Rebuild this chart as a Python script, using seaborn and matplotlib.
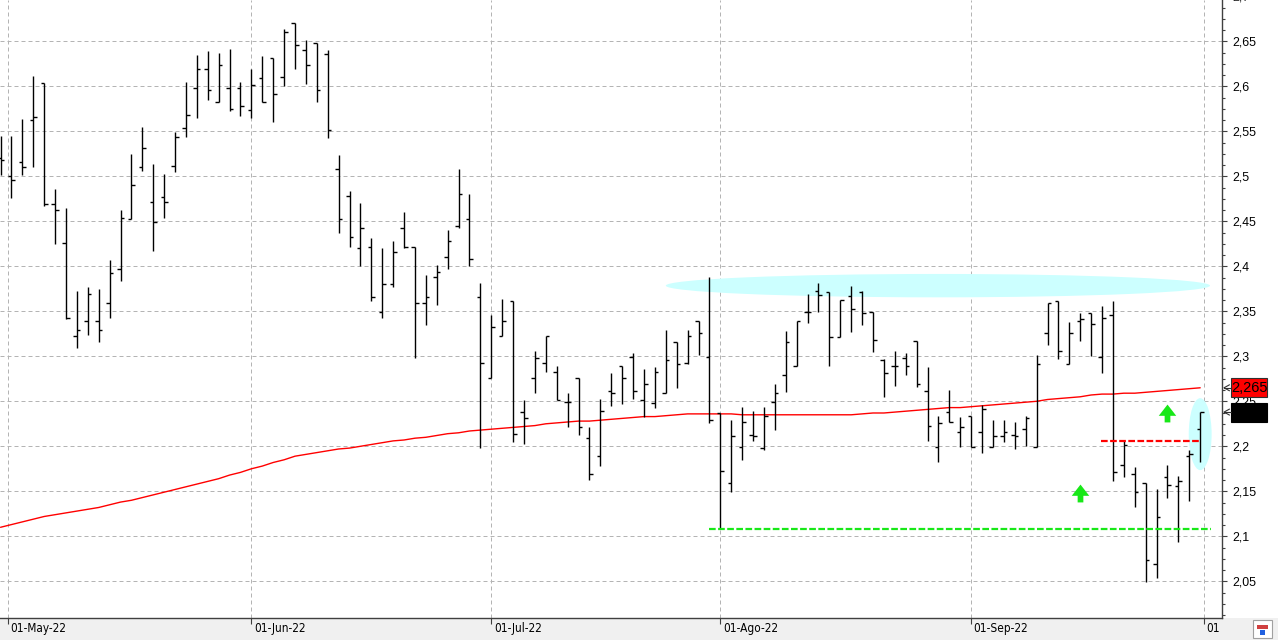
import numpy as np
import pandas as pd
import matplotlib
matplotlib.use("Agg")
import matplotlib.pyplot as plt
import matplotlib.transforms as mtransforms
from matplotlib.patches import Ellipse, Rectangle
from matplotlib.path import Path
from matplotlib.lines import Line2D
from matplotlib.ticker import MultipleLocator, FuncFormatter
from matplotlib.font_manager import FontProperties
from matplotlib import font_manager
import seaborn as sns

# ---------------- data ----------------
dates = pd.bdate_range("2022-04-29", "2022-09-30")

opens = [2.520, 2.500, 2.516, 2.563, 2.604, 2.469, 2.426, 2.322, 2.339, 2.339,
         2.359, 2.397, 2.452, 2.510, 2.472, 2.477, 2.512, 2.554, 2.598, 2.619,
         2.583, 2.598, 2.598, 2.574, 2.609, 2.631, 2.610, 2.670, 2.640, 2.648,
         2.636, 2.508, 2.478, 2.420, 2.421, 2.349, 2.380, 2.443, 2.421, 2.359,
         2.388, 2.410, 2.445, 2.453, 2.366, 2.276, 2.323, 2.361, 2.238, 2.276,
         2.293, 2.283, 2.249, 2.276, 2.209, 2.189, 2.261, 2.289, 2.299, 2.251,
         2.248, 2.259, 2.316, 2.293, 2.339, 2.299, 2.237, 2.159, 2.199, 2.213,
         2.198, 2.249, 2.279, 2.289, 2.349, 2.372, 2.371, 2.321, 2.367, 2.371,
         2.349, 2.296, 2.289, 2.298, 2.317, 2.261, 2.199, 2.238, 2.216, 2.234,
         2.216, 2.199, 2.211, 2.213, 2.219, 2.199, 2.326, 2.361, 2.291, 2.339,
         2.348, 2.299, 2.346, 2.179, 2.169, 2.159, 2.069, 2.166, 2.156, 2.189,
         2.219]
highs = [2.545, 2.545, 2.564, 2.612, 2.604, 2.486, 2.465, 2.373, 2.377, 2.375,
         2.407, 2.463, 2.525, 2.555, 2.514, 2.503, 2.549, 2.605, 2.635, 2.639,
         2.637, 2.641, 2.605, 2.619, 2.634, 2.632, 2.664, 2.670, 2.652, 2.648,
         2.640, 2.524, 2.484, 2.470, 2.431, 2.420, 2.428, 2.460, 2.421, 2.390,
         2.401, 2.440, 2.508, 2.480, 2.381, 2.346, 2.364, 2.361, 2.251, 2.306,
         2.323, 2.289, 2.259, 2.276, 2.221, 2.253, 2.281, 2.289, 2.304, 2.286,
         2.288, 2.329, 2.316, 2.329, 2.339, 2.388, 2.237, 2.229, 2.244, 2.239,
         2.244, 2.269, 2.328, 2.339, 2.369, 2.381, 2.371, 2.363, 2.378, 2.373,
         2.349, 2.297, 2.306, 2.304, 2.317, 2.288, 2.234, 2.262, 2.232, 2.234,
         2.246, 2.229, 2.229, 2.227, 2.234, 2.301, 2.359, 2.361, 2.338, 2.348,
         2.348, 2.356, 2.361, 2.206, 2.177, 2.159, 2.153, 2.179, 2.167, 2.196,
         2.238]
lows = [2.501, 2.476, 2.502, 2.510, 2.467, 2.425, 2.341, 2.309, 2.324, 2.316,
        2.343, 2.384, 2.452, 2.506, 2.417, 2.454, 2.505, 2.544, 2.565, 2.585,
        2.583, 2.573, 2.567, 2.565, 2.583, 2.560, 2.600, 2.619, 2.603, 2.583,
        2.543, 2.437, 2.421, 2.400, 2.361, 2.343, 2.377, 2.420, 2.298, 2.335,
        2.357, 2.397, 2.443, 2.400, 2.198, 2.276, 2.323, 2.205, 2.203, 2.259,
        2.283, 2.251, 2.221, 2.213, 2.163, 2.178, 2.245, 2.247, 2.253, 2.233,
        2.243, 2.259, 2.265, 2.291, 2.301, 2.226, 2.108, 2.149, 2.185, 2.206,
        2.196, 2.218, 2.260, 2.289, 2.337, 2.349, 2.289, 2.321, 2.327, 2.335,
        2.305, 2.255, 2.267, 2.279, 2.266, 2.206, 2.183, 2.227, 2.199, 2.199,
        2.193, 2.199, 2.205, 2.197, 2.200, 2.199, 2.313, 2.297, 2.291, 2.317,
        2.300, 2.281, 2.161, 2.166, 2.133, 2.049, 2.054, 2.143, 2.094, 2.139,
        2.183]
closes = [2.518, 2.496, 2.510, 2.566, 2.469, 2.462, 2.343, 2.329, 2.369, 2.329,
          2.392, 2.454, 2.490, 2.531, 2.449, 2.472, 2.544, 2.568, 2.619, 2.596,
          2.624, 2.575, 2.578, 2.602, 2.583, 2.592, 2.660, 2.646, 2.624, 2.596,
          2.552, 2.453, 2.433, 2.443, 2.366, 2.380, 2.416, 2.421, 2.359, 2.366,
          2.394, 2.428, 2.480, 2.408, 2.293, 2.333, 2.339, 2.214, 2.231, 2.298,
          2.323, 2.251, 2.249, 2.221, 2.169, 2.239, 2.259, 2.276, 2.261, 2.269,
          2.283, 2.296, 2.291, 2.323, 2.326, 2.229, 2.173, 2.211, 2.227, 2.211,
          2.234, 2.259, 2.316, 2.339, 2.349, 2.368, 2.321, 2.363, 2.353, 2.348,
          2.318, 2.281, 2.289, 2.289, 2.269, 2.223, 2.226, 2.227, 2.221, 2.199,
          2.241, 2.211, 2.216, 2.211, 2.231, 2.291, 2.359, 2.306, 2.326, 2.341,
          2.336, 2.343, 2.171, 2.201, 2.149, 2.074, 2.121, 2.157, 2.161, 2.191,
          2.238]
ma_values = [2.110, 2.113, 2.116, 2.119, 2.122, 2.124, 2.126, 2.128, 2.130, 2.132,
             2.135, 2.138, 2.140, 2.143, 2.146, 2.149, 2.152, 2.155, 2.158, 2.161,
             2.164, 2.168, 2.171, 2.175, 2.178, 2.182, 2.185, 2.189, 2.191, 2.193,
             2.195, 2.197, 2.198, 2.200, 2.202, 2.204, 2.206, 2.207, 2.209, 2.210,
             2.212, 2.214, 2.215, 2.217, 2.218, 2.219, 2.220, 2.221, 2.222, 2.223,
             2.225, 2.226, 2.227, 2.228, 2.228, 2.229, 2.230, 2.231, 2.232, 2.233,
             2.233, 2.234, 2.235, 2.236, 2.236, 2.236, 2.236, 2.236, 2.235, 2.235,
             2.235, 2.235, 2.235, 2.235, 2.235, 2.235, 2.235, 2.235, 2.235, 2.236,
             2.237, 2.237, 2.238, 2.239, 2.240, 2.241, 2.242, 2.243, 2.243, 2.244,
             2.245, 2.246, 2.247, 2.248, 2.249, 2.250, 2.252, 2.253, 2.254, 2.255,
             2.257, 2.258, 2.258, 2.259, 2.259, 2.260, 2.261, 2.262, 2.263, 2.264,
             2.265]

month_starts = ["2022-05-01", "2022-06-01", "2022-07-01", "2022-08-01", "2022-09-01", "2022-10-01"]
month_labels = ["01-May-22", "01-Jun-22", "01-Jul-22", "01-Ago-22", "01-Sep-22", "01"]
next_session = "2022-10-03"

# annotations (levels in price units, spans in bar units)
support_level = 2.108
support_span = (65.0, 111.0)
breakdown_level = 2.206
breakdown_span = (100.9, 110.0)
resistance_level = 2.3785
resistance_span = (61.0, 110.9)
resistance_thickness = 0.026
signal_bars = [99, 107]
signal_levels = [2.148, 2.237]
focus_bar = 110
focus_level = 2.2135
focus_thickness = 0.08
focus_width = 2.1

# ---------------- style ----------------
sns.set_theme(style="white")
plt.rcParams["font.family"] = ["Liberation Sans", "DejaVu Sans"]

names = {f.name for f in font_manager.fontManager.ttflist}
if "Liberation Sans Narrow" in names:
    xfp = FontProperties(family="Liberation Sans Narrow", size=9.5)
elif any(f.name == "DejaVu Sans" and "ondensed" in f.fname for f in font_manager.fontManager.ttflist):
    xfp = FontProperties(family="DejaVu Sans", stretch="condensed", size=8.5)
else:
    xfp = FontProperties(family="Liberation Sans", size=8.3)

W, H = 1278, 640
fig = plt.figure(figsize=(W / 100, H / 100), dpi=100, facecolor="white")
fig.add_artist(Rectangle((0, 0), 1, 22 / H, transform=fig.transFigure,
                         facecolor="#f0f0f0", edgecolor="none", zorder=-5))
ax = fig.add_axes([0, 22 / H, 1222 / W, 618 / H])
ax.set_facecolor("white")

n = len(dates)
idx = np.arange(n)
ax.set_xlim(-0.05, 112.0)
ax.set_ylim(2.0092, 2.6959)

# highlight zones
ax.add_patch(Ellipse(((resistance_span[0] + resistance_span[1]) / 2, resistance_level),
                     resistance_span[1] - resistance_span[0], resistance_thickness,
                     facecolor="#ccffff", edgecolor="none", zorder=1))
ax.add_patch(Ellipse((focus_bar, focus_level), focus_width, focus_thickness,
                     facecolor="#ccffff", edgecolor="none", zorder=1))

# moving average
sns.lineplot(x=idx, y=ma_values, ax=ax, color="#ff0000", linewidth=1.0, zorder=2)

# OHLC bars
lw_bar = 1.0
ax.vlines(idx, lows, highs, colors="black", linewidth=lw_bar, zorder=3)
ax.hlines(opens, idx - 0.33, idx, colors="black", linewidth=lw_bar, zorder=3)
ax.hlines(closes, idx, idx + 0.33, colors="black", linewidth=lw_bar, zorder=3)

# dashed levels
ax.plot(support_span, [support_level] * 2, color="#18e818", linewidth=1.6,
        dashes=(3, 1.1), zorder=4)
ax.plot(breakdown_span, [breakdown_level] * 2, color="#ff0000", linewidth=1.6,
        dashes=(3, 1.1), zorder=4)

# green up arrows
arrow = Path([(0, 0.5), (0.49, -0.13), (0.16, -0.13), (0.16, -0.5), (-0.16, -0.5),
              (-0.16, -0.13), (-0.49, -0.13), (0, 0.5)],
             [Path.MOVETO] + [Path.LINETO] * 6 + [Path.CLOSEPOLY])
ax.scatter(signal_bars, signal_levels, marker=arrow, s=165, color="#18e818",
           linewidths=0, zorder=5)

# grid
ax.set_axisbelow(True)
ax.grid(True, which="major", color="#b4b4b4", linestyle=(0, (4, 3)), linewidth=0.72)

# y axis on right
ax.yaxis.tick_right()
ax.yaxis.set_major_locator(MultipleLocator(0.05))
ax.yaxis.set_minor_locator(MultipleLocator(0.0125))
ax.yaxis.set_major_formatter(FuncFormatter(
    lambda v, p: f"{v:.2f}".rstrip("0").rstrip(".").replace(".", ",")))
ax.tick_params(axis="y", which="major", direction="out", length=3.6, width=0.8,
               color="#404040", pad=3.6, labelsize=8.9, labelcolor="black",
               right=True, left=False)
ax.tick_params(axis="y", which="minor", direction="out", length=2.2, width=0.8,
               color="#404040", right=True, left=False)
ax.annotate("2,7", xy=(1, 2.7), xycoords=("axes fraction", "data"),
            xytext=(7.2, 0), textcoords="offset points", va="center_baseline",
            ha="left", fontsize=8.9, annotation_clip=False)

# x axis month ticks
ext = dates.append(pd.DatetimeIndex([next_session]))
tick_pos = np.interp(pd.DatetimeIndex(month_starts).asi8.astype(float),
                     ext.asi8.astype(float), np.arange(len(ext)).astype(float))
ax.set_xticks(tick_pos)
ax.set_xticklabels(month_labels, ha="left", fontproperties=xfp, color="black")
ax.tick_params(axis="x", which="major", direction="out", length=4.3, width=0.8,
               color="#404040", pad=0, bottom=True)
off = mtransforms.ScaledTranslation(2.5 / 100, 1.5 / 100, fig.dpi_scale_trans)
for lbl in ax.get_xticklabels():
    lbl.set_transform(lbl.get_transform() + off)

for s in ["left", "top"]:
    ax.spines[s].set_visible(False)
for s in ["right", "bottom"]:
    ax.spines[s].set_color("#404040")
    ax.spines[s].set_linewidth(1.0)

# price flags on the right axis
ident = mtransforms.IdentityTransform()
y_ma = ax.transData.transform((0, ma_values[-1]))[1]
y_last = ax.transData.transform((0, closes[-1]))[1]
fig.add_artist(Rectangle((1231, y_ma - 9.5), 36, 19, transform=ident,
                         facecolor="#ff0000", edgecolor="#303030", linewidth=0.8, zorder=6))
fig.text(1249, y_ma, f"{ma_values[-1]:.3f}".replace(".", ","), transform=ident,
         ha="center", va="center", fontsize=10.5, color="black", zorder=7)
fig.add_artist(Rectangle((1231, y_last - 9.5), 36, 19, transform=ident,
                         facecolor="black", edgecolor="black", linewidth=0.8, zorder=6))
for yy in (y_ma, y_last):
    fig.add_artist(Line2D([1229.5, 1224, 1229.5], [yy + 3, yy, yy - 3], transform=ident,
                          color="#303030", linewidth=0.8, zorder=6))
    fig.add_artist(Line2D([1224, 1231], [yy, yy], transform=ident,
                          color="#303030", linewidth=0.8, zorder=6))

# small corner icon
fig.add_artist(Rectangle((1253, 2), 19, 18, transform=ident, facecolor="white",
                         edgecolor="#a0a0a0", linewidth=0.8, zorder=6))
fig.add_artist(Rectangle((1257, 11), 11, 4, transform=ident, facecolor="#d04040",
                         edgecolor="none", zorder=7))
fig.add_artist(Rectangle((1260, 5), 5, 5, transform=ident, facecolor="#2060e0",
                         edgecolor="none", zorder=7))

fig.savefig("out.png", dpi=100, facecolor="white")
